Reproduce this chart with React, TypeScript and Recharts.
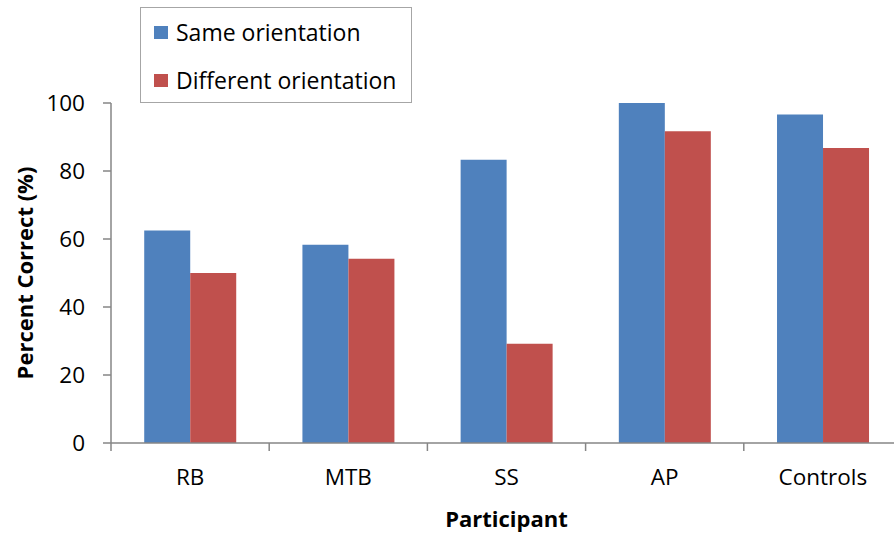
import React from 'react';
import { BarChart, Bar, XAxis, YAxis, Legend } from 'recharts';

const categories = ['RB', 'MTB', 'SS', 'AP', 'Controls'];
const sameOrientation = [62.5, 58.3, 83.3, 100, 96.6];
const differentOrientation = [50, 54.2, 29.2, 91.7, 86.8];
const yTicks = [0, 20, 40, 60, 80, 100];
const boundaryTicks = [0, 1, 2, 3, 4, 5];

const data = categories.map((c, i) => ({
  name: c,
  idx: i,
  same: sameOrientation[i],
  diff: differentOrientation[i],
}));

const FONT = '"Open Sans", "Liberation Sans", sans-serif';
const BLUE = '#4f81bd';
const RED = '#c0504d';
const AXIS = '#868686';

const LegendBox = () => (
  <div
    style={{
      boxSizing: 'border-box',
      width: 272,
      height: 96,
      border: '1.5px solid #a6a6a6',
      background: '#fff',
      position: 'relative',
      fontFamily: FONT,
      fontSize: 23,
      color: '#000',
    }}
  >
    {[
      { label: 'Same orientation', color: BLUE, top: 9 },
      { label: 'Different orientation', color: RED, top: 57 },
    ].map((it) => (
      <div key={it.label} style={{ position: 'absolute', left: 13, top: it.top, display: 'flex', alignItems: 'center', whiteSpace: 'nowrap', lineHeight: '30px' }}>
        <span style={{ display: 'inline-block', width: 14, height: 13, background: it.color, marginRight: 8 }} />
        <span>{it.label}</span>
      </div>
    ))}
  </div>
);

export default function App() {
  return (
    <div style={{ position: 'absolute', left: 0, top: 0, width: 894, height: 537, overflow: 'hidden', background: '#fff' }}>
      <BarChart
        width={902}
        height={537}
        data={data}
        margin={{ top: 103, right: 0, bottom: 0, left: 0 }}
        barCategoryGap="21%"
        barGap={0}
      >
        <XAxis
          xAxisId="b"
          dataKey="name"
          height={86}
          axisLine={false}
          tickLine={false}
          tickSize={0}
          tickMargin={18}
          tick={{ fill: '#000', fontSize: 22.5, fontFamily: FONT }}
          label={{
            content: (props: any) => {
              const vb = props.viewBox || { x: 111, y: 451, width: 791 };
              return (
                <text x={vb.x + vb.width / 2} y={vb.y + 76} textAnchor="middle" fontFamily={FONT} fontSize={22} fontWeight="bold" fill="#000">
                  Participant
                </text>
              );
            },
          }}
        />
        <XAxis
          xAxisId="a"
          type="number"
          dataKey="idx"
          domain={[0, 5]}
          ticks={boundaryTicks}
          height={8}
          tickSize={8}
          tickMargin={0}
          tickFormatter={() => ''}
          axisLine={{ stroke: AXIS, strokeWidth: 1.5 }}
          tickLine={{ stroke: AXIS, strokeWidth: 1.5 }}
          allowDataOverflow
        />
        <YAxis
          width={111}
          domain={[0, 100]}
          ticks={yTicks}
          tickSize={8}
          tickMargin={18}
          axisLine={{ stroke: AXIS, strokeWidth: 1.5 }}
          tickLine={{ stroke: AXIS, strokeWidth: 1.5 }}
          tick={{ fill: '#000', fontSize: 22.5, fontFamily: FONT }}
          label={{
            content: (props: any) => {
              const vb = props.viewBox || { x: 0, y: 103, width: 111, height: 340 };
              const cx = vb.x + 24;
              const cy = vb.y + vb.height / 2;
              return (
                <text x={cx} y={cy} transform={`rotate(-90, ${cx}, ${cy})`} textAnchor="middle" dominantBaseline="central" fontFamily={FONT} fontSize={22} fontWeight="bold" fill="#000">
                  Percent Correct (%)
                </text>
              );
            },
          }}
        />
        <Legend
          layout="horizontal"
          verticalAlign="middle"
          align="center"
          wrapperStyle={{ left: 140, top: 7, width: 272, height: 96 }}
          content={() => <LegendBox />}
        />
        <Bar xAxisId="b" dataKey="same" name="Same orientation" fill={BLUE} isAnimationActive={false} />
        <Bar xAxisId="b" dataKey="diff" name="Different orientation" fill={RED} isAnimationActive={false} />
      </BarChart>
    </div>
  );
}
